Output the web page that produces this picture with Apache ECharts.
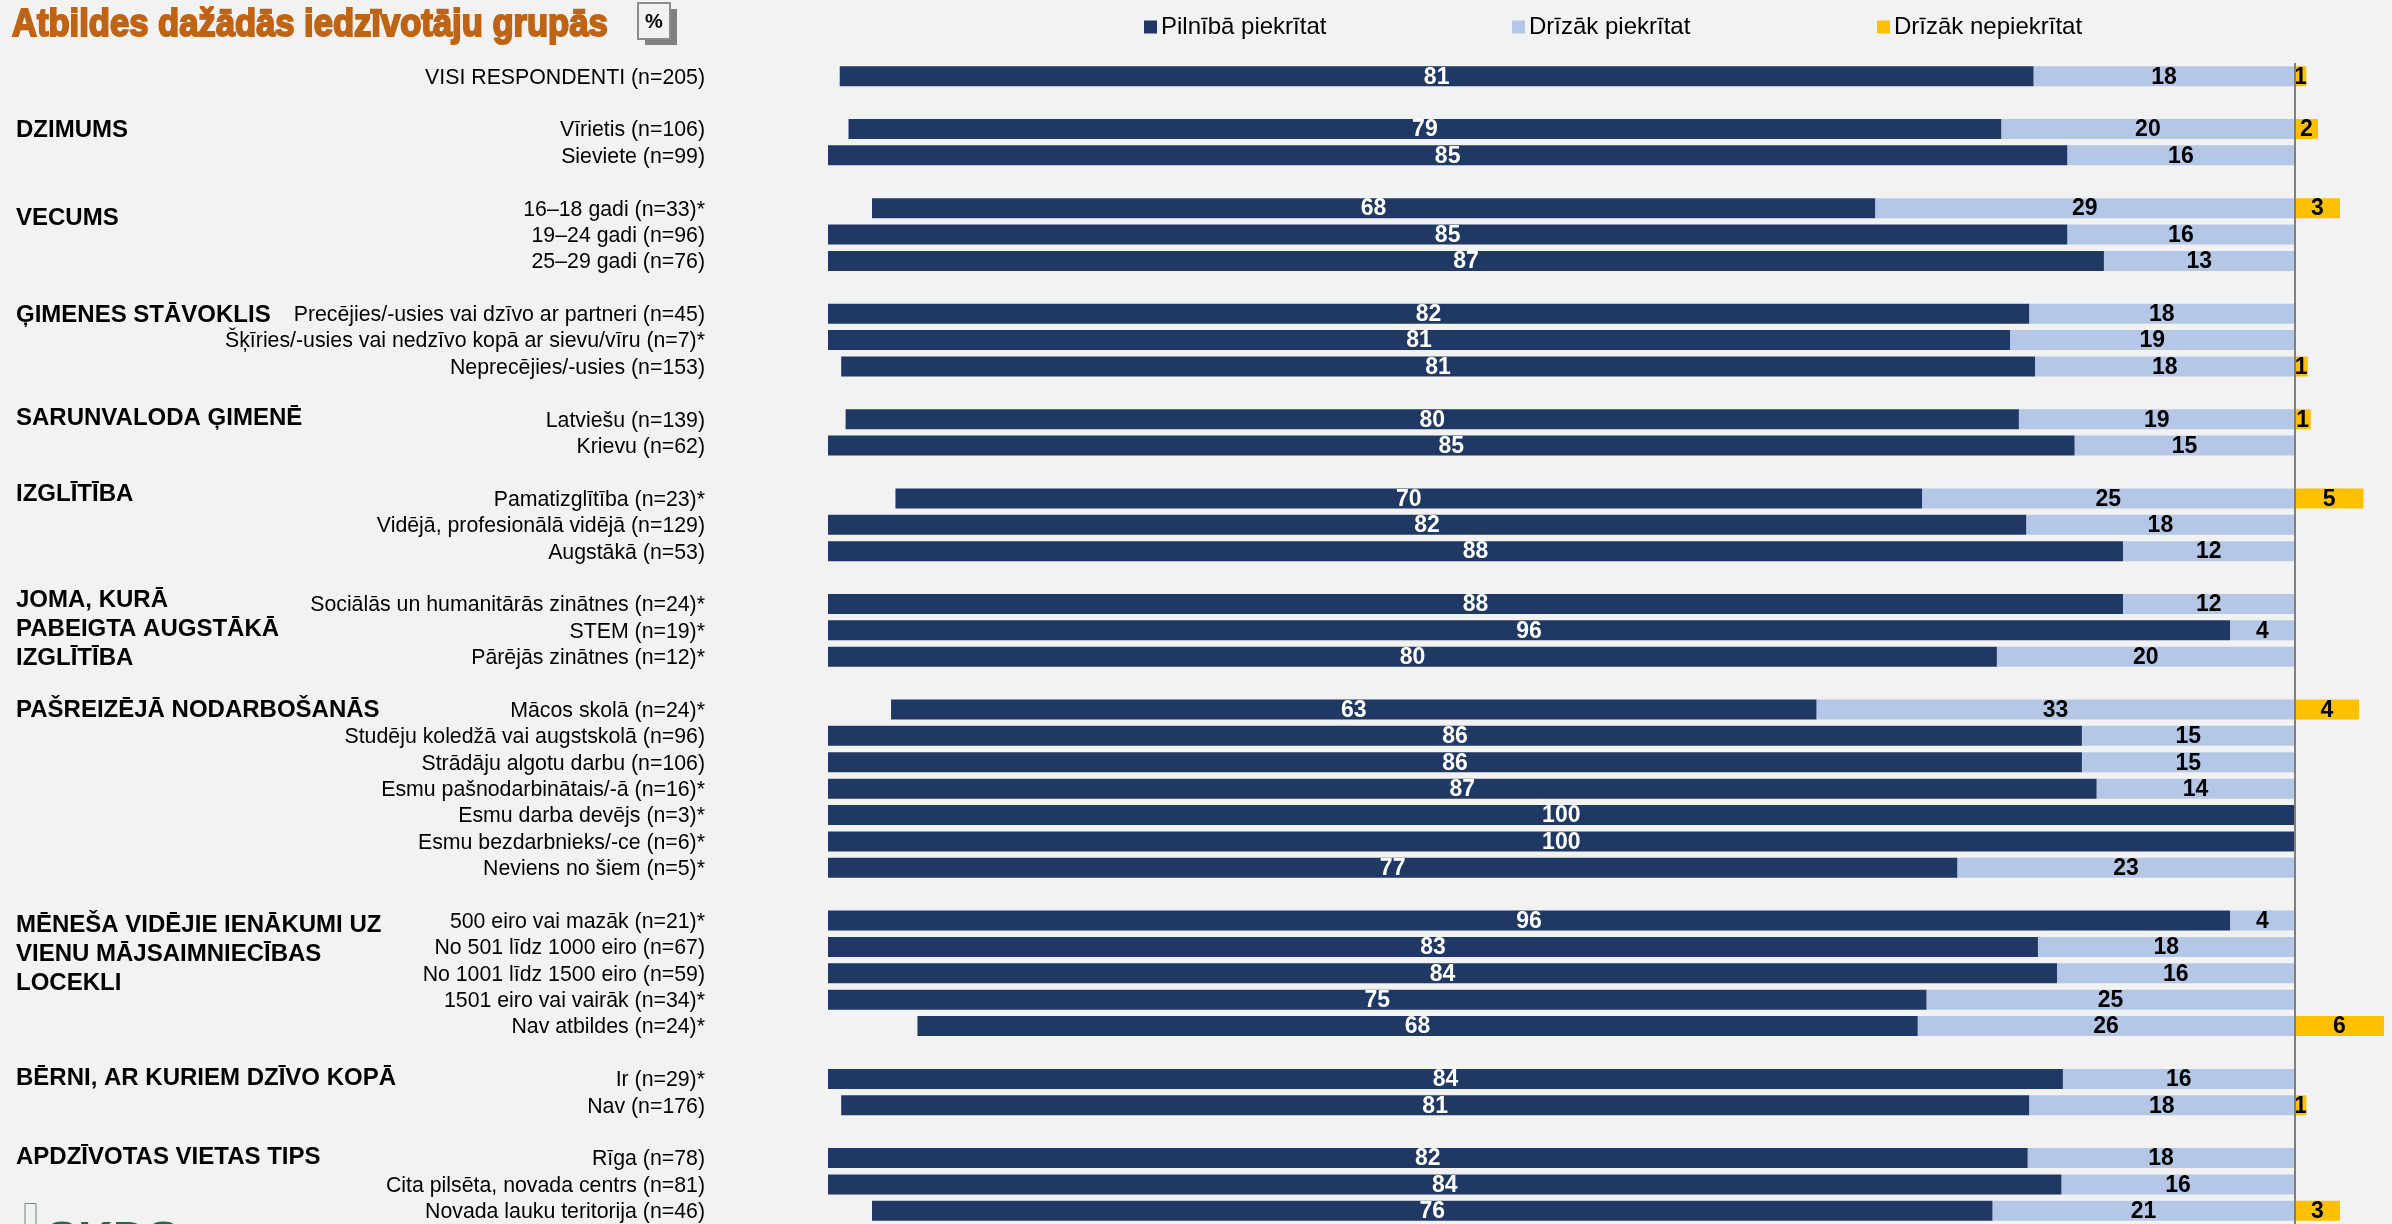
<!DOCTYPE html>
<html><head><meta charset="utf-8">
<style>html,body{margin:0;padding:0;background:#f2f2f2}#c{width:2392px;height:1224px}</style>
<script src="https://cdn.jsdelivr.net/npm/echarts@6/dist/echarts.min.js"></script></head>
<body><div id="c"></div>
<script>
const categories = ['VISI RESPONDENTI (n=205)','',
'Vīrietis (n=106)','Sieviete (n=99)','',
'16–18 gadi (n=33)*','19–24 gadi (n=96)','25–29 gadi (n=76)','',
'Precējies/-usies vai dzīvo ar partneri (n=45)','Šķīries/-usies vai nedzīvo kopā ar sievu/vīru (n=7)*','Neprecējies/-usies (n=153)','',
'Latviešu (n=139)','Krievu (n=62)','',
'Pamatizglītība (n=23)*','Vidējā, profesionālā vidējā (n=129)','Augstākā (n=53)','',
'Sociālās un humanitārās zinātnes (n=24)*','STEM (n=19)*','Pārējās zinātnes (n=12)*','',
'Mācos skolā (n=24)*','Studēju koledžā vai augstskolā (n=96)','Strādāju algotu darbu (n=106)','Esmu pašnodarbinātais/-ā (n=16)*','Esmu darba devējs (n=3)*','Esmu bezdarbnieks/-ce (n=6)*','Neviens no šiem (n=5)*','',
'500 eiro vai mazāk (n=21)*','No 501 līdz 1000 eiro (n=67)','No 1001 līdz 1500 eiro (n=59)','1501 eiro vai vairāk (n=34)*','Nav atbildes (n=24)*','',
'Ir (n=29)*','Nav (n=176)','',
'Rīga (n=78)','Cita pilsēta, novada centrs (n=81)','Novada lauku teritorija (n=46)'];
const fullyAgree = [81.4,null,78.6,84.5,null,68.4,84.5,87,null,81.9,80.6,81.4,null,80,85,null,70,81.7,88.3,null,88.3,95.6,79.7,null,63.1,85.5,85.5,86.5,100,100,77,null,95.6,82.5,83.8,74.9,68.2,null,84.2,81,null,81.8,84.1,76.4];
const ratherAgree = [17.8,null,20,15.5,null,28.6,15.5,13,null,18.1,19.4,17.7,null,18.8,15,null,25.4,18.3,11.7,null,11.7,4.4,20.3,null,32.6,14.5,14.5,13.5,null,null,23,null,4.4,17.5,16.2,25.1,25.7,null,15.8,18.1,null,18.2,15.9,20.6];
const ratherDisagree = [0.8,null,1.6,null,null,3.1,null,null,null,null,null,0.9,null,1.1,null,null,4.7,null,null,null,null,null,null,null,4.4,null,null,null,null,null,null,null,null,null,null,null,6.1,null,null,0.8,null,null,null,3.1];
const seriesNames = ['Pilnībā piekrītat','Drīzāk piekrītat','Drīzāk nepiekrītat'];
const seriesColors = ['#1F3864','#B4C7E7','#FFC000'];
const chartTitle = 'Atbildes dažādās iedzīvotāju grupās';
const groupLabels = [['DZIMUMS',130],['VECUMS',218],['ĢIMENES STĀVOKLIS',315],['SARUNVALODA ĢIMENĒ',418],['IZGLĪTĪBA',494],['JOMA, KURĀ',600],['PABEIGTA AUGSTĀKĀ',629],['IZGLĪTĪBA',658],['PAŠREIZĒJĀ NODARBOŠANĀS',710],['MĒNEŠA VIDĒJIE IENĀKUMI UZ',925],['VIENU MĀJSAIMNIECĪBAS',954],['LOCEKLI',983],['BĒRNI, AR KURIEM DZĪVO KOPĀ',1078],['APDZĪVOTAS VIETAS TIPS',1157]];

const FONT = '"Liberation Sans", Arial, sans-serif';
const neg = a => a.map(v => v == null ? null : -v);
const lab = color => ({show:true, position:'inside', color, fontFamily:FONT, fontWeight:'bold', fontSize:23, distance:0, offset:[0,1],
  formatter:p => p.value == null ? '' : String(Math.round(Math.abs(p.value)))});
const barW = 20;
const chart = echarts.init(document.getElementById('c'));
const legendAt = (name,left) => ({data:[name], left, top:15, itemWidth:13, itemHeight:13, icon:'rect', itemGap:0, selectedMode:false,
  padding:0, textStyle:{fontFamily:FONT, fontSize:24, color:'#000', padding:[0,0,0,-1]}});
chart.setOption({
  animation:false,
  backgroundColor:'#f2f2f2',
  legend:[legendAt(seriesNames[0],1144),legendAt(seriesNames[1],1512),legendAt(seriesNames[2],1877)],
  grid:{left:828, top:63, width:1557.5, height:1163, containLabel:false},
  xAxis:{type:'value', min:-100, max:6.2, show:false},
  yAxis:{type:'category', inverse:true, data:categories, position:'left',
    axisLine:{show:false}, axisTick:{show:false}, splitLine:{show:false},
    axisLabel:{interval:0, margin:123, fontFamily:FONT, fontSize:21.3, color:'#000', align:'right', verticalAlign:'top', padding:[-9,0,0,0]}},
  series:[
    {name:seriesNames[1], type:'bar', stack:'t', barWidth:barW, data:neg(ratherAgree), itemStyle:{color:seriesColors[1]}, label:lab('#000'),
      markLine:{silent:true, symbol:'none', label:{show:false}, lineStyle:{color:'#7f7f7f', width:2, type:'solid'}, data:[{xAxis:0}]}},
    {name:seriesNames[0], type:'bar', stack:'t', barWidth:barW, data:neg(fullyAgree), itemStyle:{color:seriesColors[0]}, label:lab('#fff')},
    {name:seriesNames[2], type:'bar', stack:'t', barWidth:barW, data:ratherDisagree, itemStyle:{color:seriesColors[2]}, label:lab('#000')}
  ],
  graphic:[
    {type:'text', x:12, y:7, scaleX:0.91, style:{text:chartTitle, fontFamily:FONT, fontWeight:'bold', fontSize:38, fill:'#BF6414', stroke:'#BF6414', lineWidth:2}},
    {type:'rect', shape:{x:645,y:9,width:32,height:36}, style:{fill:'#7f7f7f'}},
    {type:'rect', shape:{x:638,y:3,width:32,height:36}, style:{fill:'#f2f2f2', stroke:'#8c8c8c', lineWidth:2}},
    {type:'text', style:{x:654, y:22, text:'%', fontFamily:FONT, fontWeight:'bold', fontSize:20, fill:'#000', align:'center', verticalAlign:'middle'}},
    ...groupLabels.map(([t,y]) => ({type:'text', style:{x:16, y, text:t, fontFamily:FONT, fontWeight:'bold', fontSize:24, fill:'#000', verticalAlign:'middle'}})),
    {type:'rect', shape:{x:25,y:1203.5,width:11,height:30}, style:{fill:'none', stroke:'#5E9178', lineWidth:1}},
    {type:'text', style:{x:46, y:1218, text:'SKDS', fontFamily:FONT, fontWeight:'bold', fontSize:48, fill:'#1E6B4B', verticalAlign:'top'}}
  ]
});
</script></body></html>
